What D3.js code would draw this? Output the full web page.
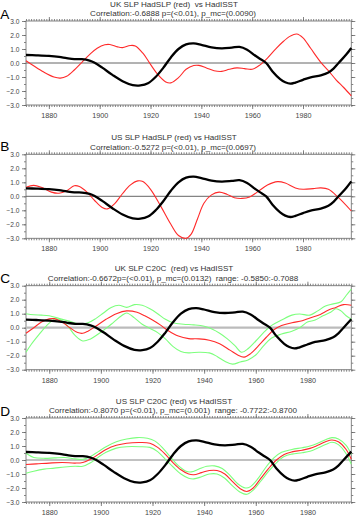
<!DOCTYPE html>
<html><head><meta charset="utf-8">
<script src="https://cdn.jsdelivr.net/npm/d3@7"></script>
<style>body{margin:0;background:#fff}svg{display:block}text.ttl{white-space:pre}</style>
</head><body>
<script>
// ---- data ----
const yTicks = [-3, -2, -1, 0, 1, 2, 3];
const xTickYears = [1880, 1900, 1920, 1940, 1960, 1980];
const panelLetters = ["A", "B", "C", "D"];
const titles1 = ["UK SLP HadSLP (red)  vs HadISST", "US SLP HadSLP (red) vs HadISST",
  "UK SLP C20C  (red) vs HadISST", "US SLP C20C (red) vs HadISST"];
const titles2 = ["Correlation:-0.6888 p=(<0.01), p_mc=(0.0090)",
  "Correlation:-0.5272 p=(<0.01), p_mc=(0.0697)",
  "Correlation:-0.6672p=(<0.01), p_mc=(0.0132)  range: -0.5850:-0.7088",
  "Correlation:-0.8070 p=(<0.01), p_mc=(0.001)  range: -0.7722:-0.8700"];
const xEnds = [1999, 1999, 1997, 1997];

const sst = [[1871,0.57],[1875,0.55],[1880,0.51],[1884,0.44],[1887,0.35],[1890,0.28],[1893,0.27],[1896,0.17],[1898,0.02],[1901,-0.33],[1905,-0.85],[1909,-1.3],[1913,-1.58],[1916,-1.6],[1919,-1.45],[1922,-1.0],[1925,-0.35],[1928,0.4],[1931,1.0],[1934,1.33],[1937,1.4],[1940,1.3],[1944,1.12],[1948,1.05],[1952,1.1],[1955,1.15],[1958,0.95],[1961,0.55],[1963,0.3],[1965.5,0.0],[1968,-0.6],[1971,-1.15],[1973,-1.38],[1975,-1.48],[1977,-1.4],[1980,-1.2],[1983,-1.02],[1987,-0.88],[1990,-0.68],[1992,-0.4],[1994,0.0],[1997,0.6],[1999,1.07]];

const ukHad = [[1871,0.16],[1874,-0.2],[1878,-0.65],[1882,-1.0],[1884.5,-1.08],[1887,-0.95],[1890,-0.5],[1893,0.05],[1896,0.6],[1899,1.05],[1902,1.3],[1904,1.32],[1907,1.15],[1909,1.1],[1912,1.25],[1914,1.22],[1917,0.7],[1920,-0.1],[1923,-0.85],[1926,-1.35],[1928,-1.42],[1931,-1.05],[1934,-0.45],[1937,-0.18],[1939,-0.17],[1942,-0.35],[1945,-0.55],[1948,-0.6],[1951,-0.45],[1954,-0.35],[1957,-0.4],[1960,-0.45],[1963,-0.15],[1966,0.35],[1969,0.95],[1972,1.5],[1975,1.92],[1977.5,2.07],[1980,1.8],[1983,1.05],[1987,0.05],[1990,-0.55],[1993,-1.2],[1996,-1.75],[1999,-2.34]];

const usHad = [[1871,0.65],[1874,0.78],[1877,0.65],[1881,0.3],[1884,0.22],[1887,0.4],[1890,0.75],[1892,0.7],[1895,0.3],[1898,-0.3],[1901,-0.8],[1903,-0.9],[1906,-0.5],[1909,0.2],[1912,0.8],[1915,1.1],[1917,1.05],[1920,0.5],[1924,-0.7],[1928,-2.0],[1931,-2.8],[1934,-3.0],[1936,-2.7],[1938.5,-1.6],[1941,-0.5],[1944,0.1],[1947,0.3],[1950,0.15],[1953,-0.1],[1956,-0.15],[1959,-0.05],[1962,0.3],[1966,0.8],[1970,1.05],[1973,0.95],[1977,0.6],[1980,0.5],[1984,0.55],[1987,0.6],[1990,0.5],[1994,-0.1],[1999,-1.05]];

const ukC20 = [[1871,-0.4],[1874,0.0],[1877,0.4],[1880,0.63],[1882,0.65],[1885,0.4],[1888,0.0],[1891,-0.35],[1893,-0.4],[1895,-0.25],[1898,0.1],[1902,0.6],[1906,1.0],[1910,1.2],[1914,1.1],[1917,0.85],[1920,0.55],[1923,0.2],[1926,-0.2],[1930,-0.6],[1934,-0.78],[1938,-0.8],[1942,-0.9],[1946,-1.15],[1950,-1.6],[1953,-1.95],[1955.5,-2.1],[1958,-1.85],[1961,-1.3],[1964,-0.7],[1967,-0.15],[1970,0.15],[1974,0.35],[1978,0.5],[1981,0.7],[1985,0.95],[1988,1.25],[1991,1.45],[1994,1.65],[1997,1.6]];
const ukC20Hi = [[1871,1.0],[1874,0.92],[1877,0.9],[1880,0.85],[1884,0.65],[1888,0.45],[1892,0.25],[1895,0.35],[1898,0.65],[1901,1.05],[1904,1.45],[1907,1.6],[1910,1.45],[1913,1.65],[1916,1.6],[1919,1.35],[1922,1.0],[1925,0.6],[1928,0.35],[1932,0.25],[1936,0.2],[1940,0.1],[1943,-0.1],[1946,-0.4],[1949,-0.8],[1952,-1.3],[1954.5,-1.75],[1957,-1.5],[1960,-0.95],[1963,-0.35],[1966,0.15],[1970,0.55],[1974,0.9],[1977,0.98],[1981,0.9],[1984,1.2],[1987,1.55],[1990,1.7],[1993,1.85],[1995,2.3],[1997,2.75]];
const ukC20Lo = [[1871,-1.75],[1873,-1.2],[1876,-0.5],[1879,0.15],[1882,0.6],[1884,0.6],[1887,0.15],[1890,-0.55],[1893,-0.95],[1896,-0.8],[1899,-0.45],[1902,-0.05],[1905,0.4],[1908,0.85],[1910,1.05],[1913,0.7],[1916,0.25],[1919,-0.05],[1922,-0.35],[1925,-0.8],[1928,-1.35],[1931,-1.7],[1934,-1.8],[1938,-1.75],[1942,-1.8],[1945,-2.05],[1948,-2.4],[1951,-2.6],[1954,-2.45],[1957,-2.3],[1960,-1.95],[1963,-1.3],[1966,-0.75],[1970,-0.45],[1974,-0.25],[1977,0.0],[1980,0.4],[1983,0.55],[1986,0.85],[1989,1.1],[1991,1.35],[1993,1.2],[1995,0.85],[1997,0.6]];

const usC20 = [[1871,-0.32],[1875,-0.28],[1880,-0.22],[1885,-0.18],[1890,-0.22],[1893,-0.18],[1896,0.05],[1899,0.4],[1902,0.75],[1906,1.05],[1910,1.2],[1915,1.25],[1919,1.2],[1922,0.9],[1925,0.4],[1928,-0.2],[1931,-0.7],[1934,-1.0],[1936,-1.05],[1939,-0.9],[1942,-0.75],[1945,-0.75],[1948,-1.0],[1951,-1.55],[1954,-2.05],[1956.5,-2.25],[1959,-2.0],[1962,-1.3],[1965,-0.6],[1968,0.0],[1971,0.4],[1974,0.58],[1978,0.7],[1981,0.83],[1984,1.05],[1987,1.3],[1989.5,1.43],[1992,1.3],[1995,0.75],[1997,0.05]];
const usC20Hi = [[1871,0.48],[1874,0.18],[1878,0.12],[1882,0.15],[1886,0.18],[1890,0.08],[1893,0.05],[1896,0.25],[1899,0.6],[1902,0.95],[1906,1.3],[1910,1.5],[1914,1.6],[1918,1.55],[1921,1.35],[1924,0.85],[1927,0.2],[1930,-0.4],[1933,-0.8],[1935,-0.85],[1938,-0.65],[1941,-0.45],[1944,-0.42],[1947,-0.6],[1950,-1.1],[1953,-1.7],[1956,-2.0],[1958,-1.9],[1961,-1.3],[1964,-0.5],[1967,0.15],[1970,0.55],[1974,0.75],[1978,0.88],[1981,1.0],[1984,1.2],[1987,1.45],[1989.5,1.6],[1992,1.5],[1995,1.05],[1997,0.4]];
const usC20Lo = [[1871,-0.95],[1874,-0.8],[1878,-0.65],[1882,-0.58],[1886,-0.5],[1890,-0.45],[1893,-0.45],[1896,-0.2],[1899,0.2],[1902,0.55],[1906,0.85],[1910,0.95],[1915,0.95],[1919,0.9],[1922,0.6],[1925,0.05],[1928,-0.5],[1931,-1.0],[1934,-1.3],[1936,-1.35],[1939,-1.2],[1942,-1.0],[1945,-1.0],[1948,-1.3],[1951,-1.85],[1954,-2.3],[1956.5,-2.45],[1959,-2.15],[1962,-1.5],[1965,-0.8],[1968,-0.2],[1971,0.25],[1974,0.42],[1978,0.52],[1981,0.62],[1984,0.85],[1987,1.1],[1989.5,1.27],[1992,1.1],[1995,0.45],[1997,-0.3]];

const panelRed = [ukHad, usHad, ukC20, usC20];
const panelGreen = [[], [], [ukC20Hi, ukC20Lo], [usC20Hi, usC20Lo]];

// ---- layout ----
const W = 356, H = 516;
const left = 26, right = 351.3, ph = 84;
const tops = [21, 154.3, 285.7, 418];
const zeroStyles = [
  {c: "#555", w: 0.9}, {c: "#555", w: 0.9}, {c: "#bbb", w: 2.2}, {c: "#777", w: 0.9}];
const font = "'Liberation Sans', Arial, Helvetica, sans-serif";

const svg = d3.select("body").append("svg").attr("width", W).attr("height", H);

panelLetters.forEach((L, i) => {
  const top = tops[i], bottom = top + ph;
  const x = d3.scaleLinear().domain([1871, xEnds[i]]).range([left, right]);
  const y = d3.scaleLinear().domain([-3, 3]).range([bottom, top]);
  const g = svg.append("g");

  // titles
  g.append("text").attr("class", "ttl").attr("x", 174).attr("y", top - 14.3).attr("text-anchor", "middle")
    .attr("font-family", font).attr("font-size", 8.1).attr("fill", "#333").text(titles1[i]);
  g.append("text").attr("class", "ttl").attr("x", 173).attr("y", top - 4.8).attr("text-anchor", "middle")
    .attr("font-family", font).attr("font-size", 8.1).attr("fill", "#333").text(titles2[i]);
  g.append("text").attr("x", 0.3).attr("y", top - (i === 1 ? 3.3 : 2.5))
    .attr("font-family", font).attr("font-size", 13.6).attr("fill", "#000").text(L);

  const minorYears = d3.range(1871, xEnds[i] + 0.01, 1);
  const halfTicks = d3.range(-3, 3.01, 0.5);

  // bottom axis
  const axB = d3.axisBottom(x).tickValues(xTickYears).tickFormat(d3.format("d")).tickSize(4).tickPadding(4);
  const gb = g.append("g").attr("transform", `translate(0,${bottom})`).call(axB);
  const axBm = d3.axisBottom(x).tickValues(minorYears).tickFormat("").tickSize(2);
  const gbm = g.append("g").attr("transform", `translate(0,${bottom})`).call(axBm);
  // top axis
  const gt = g.append("g").attr("transform", `translate(0,${top})`)
    .call(d3.axisTop(x).tickValues(xTickYears).tickFormat("").tickSize(4));
  const gtm = g.append("g").attr("transform", `translate(0,${top})`)
    .call(d3.axisTop(x).tickValues(minorYears).tickFormat("").tickSize(2));
  // left axis
  const gl = g.append("g").attr("transform", `translate(${left},0)`)
    .call(d3.axisLeft(y).tickValues(yTicks).tickFormat(d3.format(".1f")).tickSize(4).tickPadding(2.5));
  const glm = g.append("g").attr("transform", `translate(${left},0)`)
    .call(d3.axisLeft(y).tickValues(halfTicks).tickFormat("").tickSize(2));
  // right axis
  const gr = g.append("g").attr("transform", `translate(${right},0)`)
    .call(d3.axisRight(y).tickValues(yTicks).tickFormat("").tickSize(4));
  const grm = g.append("g").attr("transform", `translate(${right},0)`)
    .call(d3.axisRight(y).tickValues(halfTicks).tickFormat("").tickSize(2));

  [gb, gbm, gt, gtm, gl, glm, gr, grm].forEach(a => {
    a.select(".domain").remove();
    a.selectAll("line").attr("stroke", "#666").attr("stroke-width", 0.8);
    a.selectAll("text").attr("font-family", font).attr("font-size", 6.6).attr("fill", "#444");
  });
  gb.selectAll("text").attr("font-size", 7.2);

  // frame
  g.append("rect").attr("x", left).attr("y", top).attr("width", right - left).attr("height", ph)
    .attr("fill", "none").attr("stroke", "#777").attr("stroke-width", 0.9);

  // zero line
  g.append("line").attr("x1", left).attr("x2", right).attr("y1", y(0)).attr("y2", y(0))
    .attr("stroke", zeroStyles[i].c).attr("stroke-width", zeroStyles[i].w);

  const line = d3.line().x(d => x(d[0])).y(d => y(d[1])).curve(d3.curveCatmullRom.alpha(0.5));

  panelGreen[i].forEach(s => {
    g.append("path").attr("d", line(s)).attr("fill", "none").attr("stroke", "#7dff7d").attr("stroke-width", 1.1);
  });
  g.append("path").attr("d", line(panelRed[i])).attr("fill", "none").attr("stroke", "#ff2a2a").attr("stroke-width", 1.1);
  g.append("path").attr("d", line(sst.filter(d => d[0] <= xEnds[i]))).attr("fill", "none")
    .attr("stroke", "#000").attr("stroke-width", 2.3);
});
</script>
</body></html>
